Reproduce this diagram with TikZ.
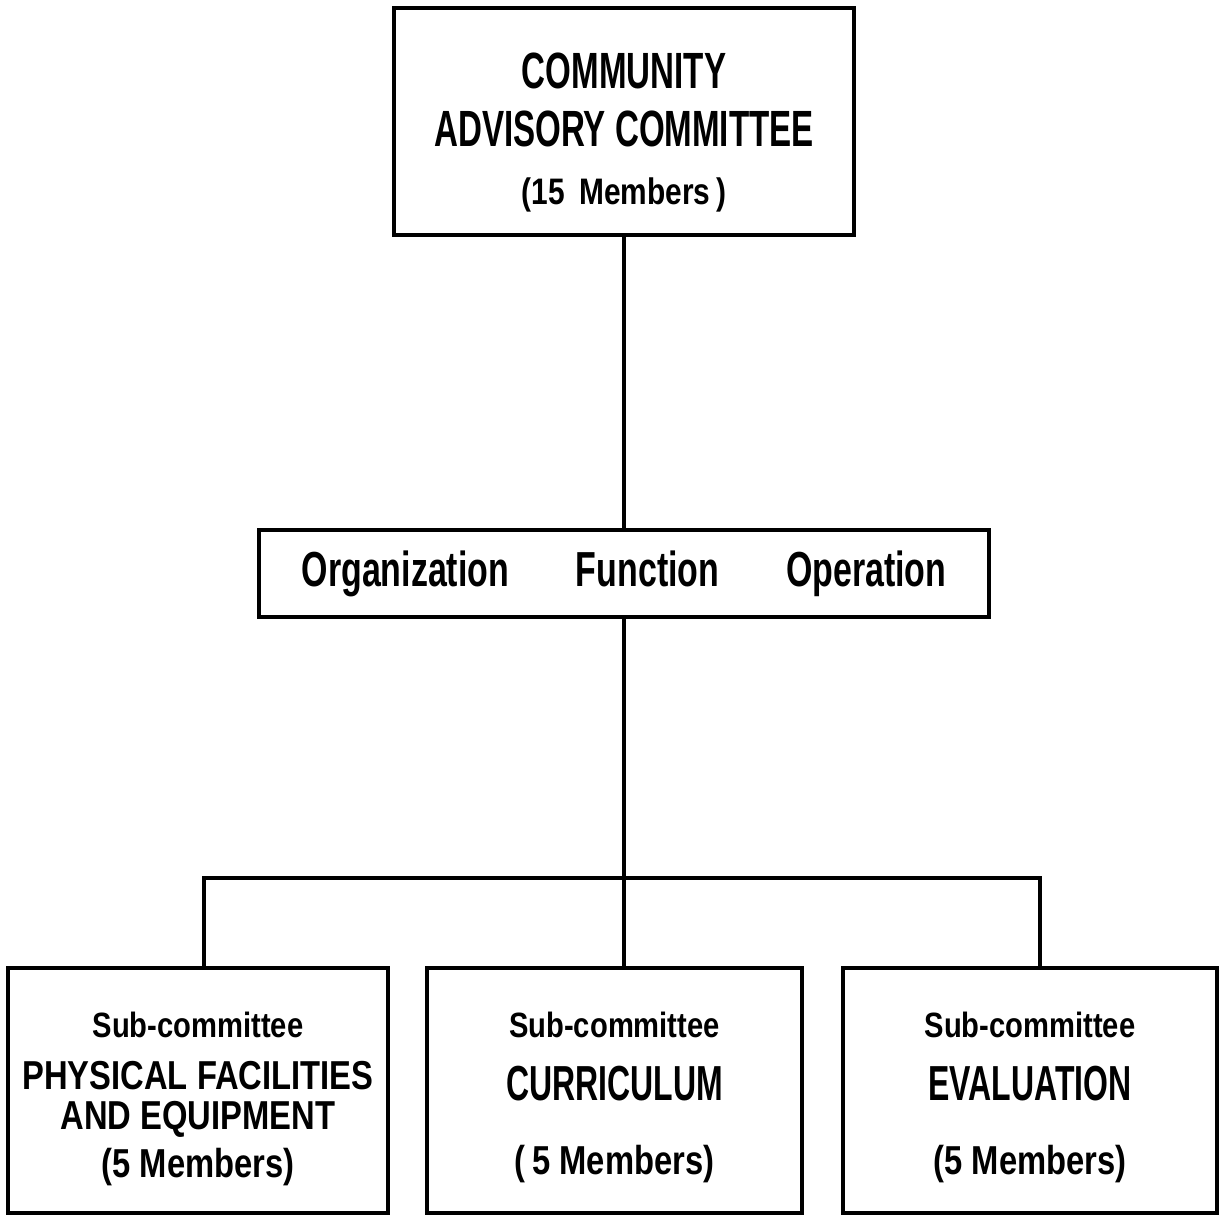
\documentclass[tikz,border=0pt]{standalone}
\usepackage{fontspec}
\setmainfont[FakeStretch=0.69]{Liberation Sans}
\newfontfamily\headfont[FakeStretch=0.65]{Liberation Sans}
\newfontfamily\boxfont[FakeStretch=0.81]{Liberation Sans}
\newfontfamily\subfont[FakeStretch=0.83]{Liberation Sans}

\begin{document}
\begin{tikzpicture}[x=0.02cm, y=-0.02cm]
  \tikzstyle{box}=[draw, line width=2pt, align=center, inner sep=0pt, font=\bfseries]
  \tikzstyle{link}=[line width=2pt]

  \useasboundingbox (0,0) rectangle (1219,1216);

  \node[box, minimum width=9.2cm, minimum height=4.54cm,
        font=\bfseries\headfont\fontsize{29}{33}\selectfont] at (624,121.5) (cac)
        {\rule{0pt}{32.5pt}COMMUNITY\\ADVISORY COMMITTEE\\
         {\boxfont\fontsize{21}{33}\selectfont(15\, Members\,)}};
  \node[box, minimum width=14.6cm, minimum height=1.74cm,
        font=\bfseries\fontsize{28}{32}\selectfont] at (624,573.5) (ofo)
        {Organization\hspace{38pt}Function\hspace{38pt}Operation};

  \node[box, minimum width=7.6cm, minimum height=4.9cm,
        font=\bfseries\boxfont\fontsize{23}{22.7}\selectfont] at (198,1090.5) (phys)
        {{\subfont\fontsize{20}{22.7}\selectfont\rule{0pt}{24pt}Sub-committee}\\[7.3pt]
         PHYSICAL FACILITIES\\AND EQUIPMENT\\[4.5pt](5 Members)};
  \node[box, minimum width=7.5cm, minimum height=4.9cm,
        font=\bfseries\boxfont\fontsize{23}{22.7}\selectfont] at (614.5,1090.5) (curr)
        {{\subfont\fontsize{20}{22.7}\selectfont\rule{0pt}{22.4pt}Sub-committee}\\[13pt]
         {\headfont\fontsize{28}{22.7}\selectfont CURRICULUM}\\[19.8pt](\,5 Members)};
  \node[box, minimum width=7.48cm, minimum height=4.9cm,
        font=\bfseries\boxfont\fontsize{23}{22.7}\selectfont] at (1030,1090.5) (eval)
        {{\subfont\fontsize{20}{22.7}\selectfont\rule{0pt}{22.4pt}Sub-committee}\\[13pt]
         {\headfont\fontsize{28}{22.7}\selectfont EVALUATION}\\[19.8pt](5 Members)};

  \coordinate (lj) at (204,878);
  \coordinate (rj) at (1040,878);

  \draw[link] (cac) -- (ofo);
  \draw[link] (ofo.south) -- (ofo.south |- curr.north);
  \draw[link] (phys.north -| lj) -- (lj) -- (rj) -- (eval.north -| rj);

\end{tikzpicture}
\end{document}
